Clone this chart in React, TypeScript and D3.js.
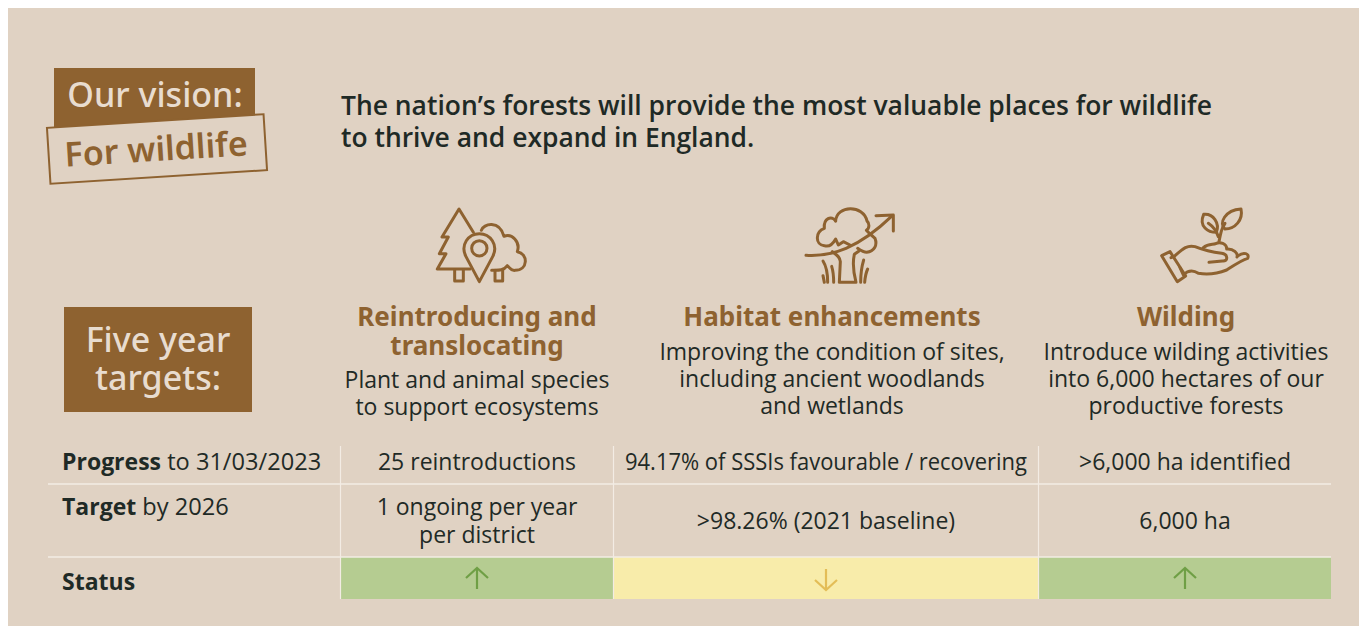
import * as d3 from 'd3';
import React, {useRef, useEffect} from 'react';

const bgColor = '#e0d2c3';
const badgeText = '#e8dccf';
const brown = '#8e6230';
const ink = '#1f2a26';
const upGreen = '#b5cc91';
const upArrow = '#6f9f45';
const downYellow = '#f8ecaa';
const downArrow = '#e3bd57';

const visionLines = ['The nation’s forests will provide the most valuable places for wildlife', 'to thrive and expand in England.'];
const headings = [['Reintroducing and', 'translocating'], ['Habitat enhancements'], ['Wilding']];
const blurbs = [
    ['Plant and animal species', 'to support ecosystems'],
    ['Improving the condition of sites,', 'including ancient woodlands', 'and wetlands'],
    ['Introduce wilding activities', 'into 6,000 hectares of our', 'productive forests'],
];
const rowBold = ['Progress', 'Target', 'Status'];
const rowRest = [' to 31/03/2023', ' by 2026', ''];
const progress = ['25 reintroductions', '94.17% of SSSIs favourable / recovering', '>6,000 ha identified'];
const targets = [['1 ongoing per year', 'per district'], ['>98.26% (2021 baseline)'], ['6,000 ha']];
const status = ['up', 'down', 'up'];

const bodyFont = '"Open Sans", sans-serif';
const headFont = '"Noto Sans", sans-serif';

// icons, at 3x around their own origin
const icons = [
    {
        x: 420, y: 195,
        lines: [
            'M160,112 L117,42 L66,126 L85,126 L58,176 L78,176 L52,222 L150,222',
            'M104,224 L104,258 L130,258 L130,224',
            'M178,260 L138,185 C120,150 145,116 178,116 C211,116 236,150 218,185 Z',
            'M184,106 C190,86 238,74 252,124 C275,114 302,140 292,170 C325,176 325,226 285,226 C272,228 268,216 262,212 C250,228 235,226 215,226',
            'M225,226 L225,258 L248,258 L248,226',
        ],
        circle: [178, 160, 23],
    },
    {
        x: 795, y: 195,
        lines: [
            'M33,181 C110,186 190,160 292,62',
            'M243,62 L295,60 L295,108',
            'M122,78 C110,60 85,70 88,100 C60,110 60,150 88,152 C100,156 112,150 122,132 L130,150 L145,140 L165,150',
            'M122,78 C125,30 205,28 216,78 C224,85 224,100 214,106 C225,118 232,122 240,130 C248,150 238,170 215,172 C205,172 195,165 188,160',
            'M112,170 C125,180 135,185 136,200 L133,262 L183,262 C176,235 172,205 178,178 L192,168',
            'M84,198 C95,215 98,240 98,262', 'M110,214 C115,230 116,250 116,262', 'M84,242 L88,262',
            'M206,195 C200,215 197,240 197,262', 'M218,222 C212,235 210,250 209,262',
        ],
    },
    {
        x: 1145, y: 195,
        lines: [
            'M222,140 C228,110 230,100 240,85',
            'M190,85 C205,95 215,110 220,125',
            'M176,58 C205,55 225,85 214,112 C190,112 160,95 176,58 Z',
            'M288,42 C295,75 270,102 240,102 C220,85 240,45 288,42 Z',
            'M175,158 C190,145 205,150 212,146 C225,140 245,145 245,162 C265,160 280,175 276,186',
            'M50,182 L75,170 L122,243 L97,260 Z',
            'M78,188 L88,184 C110,165 125,148 150,155 C175,165 205,172 230,175 C250,178 250,200 232,198 L192,202',
            'M105,218 L115,240 C130,225 145,225 160,235 C190,240 220,235 245,225 C265,212 290,195 308,190 C315,175 295,170 280,182',
        ],
    },
];

function App(){
    const ref = useRef();

    useEffect(() => {
        const svg = d3.select(ref.current);
        svg.selectAll('*').remove();

        // column and row edges are uneven, so piecewise scales
        const colEdge = d3.scaleLinear().domain([0, 1, 2, 3]).range([340, 613, 1038, 1331]);
        const rowEdge = d3.scaleLinear().domain([0, 1, 2, 3]).range([446, 484, 557, 599]);
        const colMid = (i) => i === 0 ? 477 : i === 1 ? 826 : 1185;
        const headMid = (i) => i === 0 ? 477 : i === 1 ? 832 : 1186;

        svg.append('rect').attr('x', 8).attr('y', 8).attr('width', 1351).attr('height', 618).attr('fill', bgColor);

        // vision badge
        svg.append('rect').attr('x', 54).attr('y', 68).attr('width', 201).attr('height', 60).attr('fill', brown);
        svg.append('text').attr('x', 155).attr('y', 107).attr('text-anchor', 'middle')
            .attr('font-family', headFont).attr('font-size', 34).attr('font-weight', 500).attr('fill', badgeText).text('Our vision:');
        const tilted = svg.append('g').attr('transform', 'rotate(-3.6 157 149)');
        tilted.append('rect').attr('x', 48.5).attr('y', 121).attr('width', 217).attr('height', 56)
            .attr('fill', bgColor).attr('stroke', brown).attr('stroke-width', 2);
        tilted.append('text').attr('x', 156).attr('y', 161).attr('text-anchor', 'middle')
            .attr('font-family', headFont).attr('font-size', 34).attr('font-weight', 600).attr('fill', brown).text('For wildlife');

        // vision statement
        svg.append('g').selectAll('text').data(visionLines).join('text')
            .attr('x', 341).attr('y', (d, i) => 115 + i * 32)
            .attr('font-family', bodyFont).attr('font-size', 26.45).attr('font-weight', 600).attr('fill', ink).text(d => d);

        // five year badge
        svg.append('rect').attr('x', 64).attr('y', 307).attr('width', 188).attr('height', 105).attr('fill', brown);
        svg.append('g').selectAll('text').data(['Five year', 'targets:']).join('text')
            .attr('x', 158).attr('y', (d, i) => 352 + i * 38).attr('text-anchor', 'middle')
            .attr('font-family', headFont).attr('font-size', 34).attr('font-weight', 500).attr('fill', badgeText).text(d => d);

        // icons
        icons.forEach((icon) => {
            const g = svg.append('g').attr('transform', `translate(${icon.x},${icon.y}) scale(${1 / 3})`)
                .attr('fill', 'none').attr('stroke', brown).attr('stroke-width', 9)
                .attr('stroke-linejoin', 'round').attr('stroke-linecap', 'round');
            g.selectAll('path').data(icon.lines).join('path').attr('d', d => d);
            if (icon.circle) {
                g.append('circle').attr('cx', icon.circle[0]).attr('cy', icon.circle[1]).attr('r', icon.circle[2]);
            }
        });

        // column headings and blurbs
        headings.forEach((lines, i) => {
            svg.append('g').selectAll('text').data(lines).join('text')
                .attr('x', headMid(i)).attr('y', (d, j) => 326 + j * 28.5).attr('text-anchor', 'middle')
                .attr('font-family', headFont).attr('font-size', 26).attr('font-weight', 700).attr('fill', brown).text(d => d);
            const top = lines.length > 1 ? 388 : 360;
            svg.append('g').selectAll('text').data(blurbs[i]).join('text')
                .attr('x', headMid(i)).attr('y', (d, j) => top + j * 27).attr('text-anchor', 'middle')
                .attr('font-family', bodyFont).attr('font-size', 23).attr('fill', ink).text(d => d);
        });

        // status cells
        svg.append('g').selectAll('rect').data(status).join('rect')
            .attr('x', (d, i) => colEdge(i)).attr('y', rowEdge(2))
            .attr('width', (d, i) => colEdge(i + 1) - colEdge(i)).attr('height', rowEdge(3) - rowEdge(2))
            .attr('fill', d => d === 'up' ? upGreen : downYellow);

        // table rules
        [1, 2].forEach((r) => {
            svg.append('line').attr('x1', 48).attr('x2', colEdge(3)).attr('y1', rowEdge(r)).attr('y2', rowEdge(r))
                .attr('stroke', '#f3ece4').attr('stroke-width', 1.5);
        });
        [0, 1, 2].forEach((c) => {
            svg.append('line').attr('x1', colEdge(c) + 0.5).attr('x2', colEdge(c) + 0.5).attr('y1', rowEdge(0)).attr('y2', rowEdge(3))
                .attr('stroke', '#f3ece4').attr('stroke-width', 1.2);
        });

        // row labels
        const labelY = [470, 515, 590];
        rowBold.forEach((b, i) => {
            const t = svg.append('text').attr('x', 62).attr('y', labelY[i])
                .attr('font-family', bodyFont).attr('font-size', 23).attr('fill', ink);
            t.append('tspan').attr('font-weight', 700).text(b);
            t.append('tspan').attr('font-size', 23.6).text(rowRest[i]);
        });

        // table values (the long middle one is squeezed to fit its cell)
        svg.append('g').selectAll('text').data(progress).join('text')
            .attr('x', (d, i) => colMid(i)).attr('y', 470).attr('text-anchor', 'middle')
            .attr('font-family', bodyFont).attr('font-size', 23).attr('fill', ink)
            .attr('textLength', (d, i) => i === 1 ? 402 : null)
            .attr('lengthAdjust', (d, i) => i === 1 ? 'spacingAndGlyphs' : null)
            .text(d => d);
        targets.forEach((lines, i) => {
            const top = lines.length > 1 ? 515 : 529;
            svg.append('g').selectAll('text').data(lines).join('text')
                .attr('x', colMid(i)).attr('y', (d, j) => top + j * 28).attr('text-anchor', 'middle')
                .attr('font-family', bodyFont).attr('font-size', 23).attr('fill', ink).text(d => d);
        });

        // status arrows
        const arrow = d3.line();
        status.forEach((s, i) => {
            const x = colMid(i);
            const dir = s === 'up' ? -1 : 1;
            const g = svg.append('g').attr('fill', 'none').attr('stroke', s === 'up' ? upArrow : downArrow)
                .attr('stroke-width', 2.2).attr('transform', `translate(${x},579)`);
            g.append('path').attr('d', arrow([[0, -10 * dir], [0, 11 * dir]]));
            g.append('path').attr('d', arrow([[-11, 1 * dir], [0, 11 * dir], [11, 1 * dir]]));
        });
    }, []);

    return (
        <svg ref={ref} width={1359} height={626} style={{position: 'absolute', left: 0, top: 0, display: 'block'}}>
        </svg>
    )
}

export default App;
